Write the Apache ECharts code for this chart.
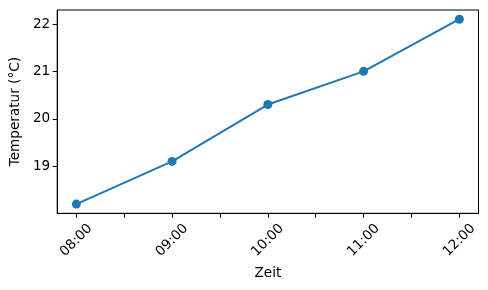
<!DOCTYPE html>
<html>
<head>
<meta charset="utf-8">
<script src="https://cdn.jsdelivr.net/npm/echarts@6/dist/echarts.min.js"></script>
<style>html,body{margin:0;padding:0;background:#fff}#c{width:488px;height:290px}</style>
</head>
<body>
<div id="c"></div>
<script>
const categories = ['08:00', '09:00', '10:00', '11:00', '12:00'];
const temperatures = [18.2, 19.1, 20.3, 21.0, 22.1];
const yTicks = [19, 20, 21, 22];
const xTickPositions = [0, 0.5, 1, 1.5, 2, 2.5, 3, 3.5, 4];

const font = 'DejaVu Sans';
const fs = 13.6;
const chart = echarts.init(document.getElementById('c'), null, {renderer: 'canvas'});
chart.setOption({
  animation: false,
  grid: {left: 57, top: 10, right: 9.5, bottom: 76.7, show: true, borderColor: '#000', borderWidth: 1, containLabel: false},
  xAxis: {
    type: 'value', min: -0.2, max: 4.2,
    name: 'Zeit', nameLocation: 'middle', nameGap: 51,
    nameTextStyle: {fontFamily: font, fontSize: fs, color: '#000'},
    axisLine: {show: true, onZero: false, lineStyle: {color: '#000', width: 1}},
    axisTick: {show: true, length: 4.5, lineStyle: {color: '#000', width: 1}, customValues: xTickPositions},
    axisLabel: {
      customValues: categories.map((_, i) => i),
      formatter: v => categories[Math.round(v)],
      rotate: 45, align: 'center', verticalAlign: 'middle', margin: 27,
      fontFamily: font, fontSize: fs, color: '#000'
    },
    splitLine: {show: false}
  },
  yAxis: {
    type: 'value', min: 18.005, max: 22.295,
    name: 'Temperatur (°C)', nameLocation: 'middle', nameGap: 34,
    nameTextStyle: {fontFamily: font, fontSize: fs, color: '#000'},
    axisLine: {show: true, onZero: false, lineStyle: {color: '#000', width: 1}},
    axisTick: {show: true, length: 4.5, lineStyle: {color: '#000', width: 1}, customValues: yTicks},
    axisLabel: {customValues: yTicks, margin: 7, fontFamily: font, fontSize: fs, color: '#000'},
    splitLine: {show: false}
  },
  series: [{
    type: 'line',
    data: temperatures.map((t, i) => [i, t]),
    symbol: 'circle', symbolSize: 9,
    lineStyle: {color: '#1f77b4', width: 2},
    itemStyle: {color: '#1f77b4'}
  }]
});
</script>
</body>
</html>
